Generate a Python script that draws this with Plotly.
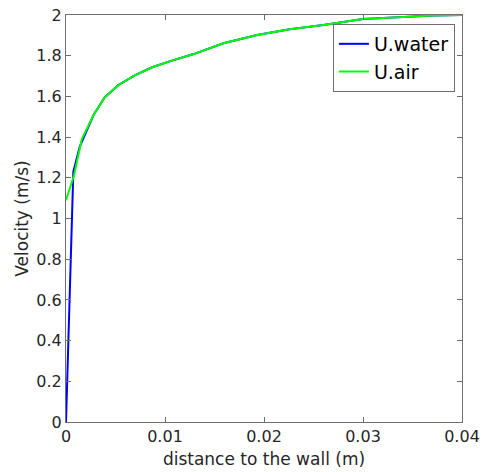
import plotly.graph_objects as go

# distance to the wall (m) and velocity (m/s)
x_water = [0, 0.00074, 0.0014, 0.0028, 0.0039, 0.0053, 0.0070, 0.0087, 0.0107, 0.0129, 0.0159,
           0.0193, 0.0226, 0.0260, 0.0300, 0.0341, 0.0370, 0.0400]
u_water = [0, 1.23, 1.355, 1.51, 1.595, 1.656, 1.705, 1.743, 1.776, 1.808, 1.861,
           1.902, 1.930, 1.951, 1.980, 1.992, 1.997, 2.0]

x_air = [0, 0.0008, 0.0016, 0.0028, 0.0039, 0.0053, 0.0070, 0.0087, 0.0107, 0.0129, 0.0159,
         0.0193, 0.0226, 0.0260, 0.0300, 0.0341, 0.0370, 0.0400]
u_air = [1.09, 1.21, 1.39, 1.51, 1.595, 1.656, 1.705, 1.743, 1.776, 1.808, 1.861,
         1.902, 1.930, 1.951, 1.980, 1.992, 1.997, 2.0]

x_ticks = [0, 0.01, 0.02, 0.03, 0.04]
x_ticklabels = ["0", "0.01", "0.02", "0.03", "0.04"]
y_ticks = [0, 0.2, 0.4, 0.6, 0.8, 1, 1.2, 1.4, 1.6, 1.8, 2]
y_ticklabels = ["0", "0.2", "0.4", "0.6", "0.8", "1", "1.2", "1.4", "1.6", "1.8", "2"]

fig = go.Figure()
fig.add_trace(go.Scatter(x=x_water, y=u_water, mode="lines", name="U.water",
                         line=dict(color="#0000FF", width=2)))
fig.add_trace(go.Scatter(x=x_air, y=u_air, mode="lines", name="U.air",
                         line=dict(color="#00FF00", width=2)))

axis_common = dict(
    showline=True, linecolor="#6e6e6e", linewidth=1, mirror="ticks",
    ticks="inside", ticklen=5, tickcolor="#6e6e6e", tickwidth=1,
    showgrid=False, zeroline=False, automargin=False,
    tickfont=dict(family="DejaVu Sans", size=16, color="#262626"),
)

fig.update_layout(
    width=482, height=472,
    margin=dict(l=66, r=20, t=15, b=50),
    paper_bgcolor="white", plot_bgcolor="white",
    font=dict(family="DejaVu Sans", color="#262626"),
    xaxis=dict(range=[0, 0.04], tickvals=x_ticks, ticktext=x_ticklabels,
               title=dict(text="distance to the wall (m)", font=dict(size=17, color="#262626"), standoff=7),
               **axis_common),
    yaxis=dict(range=[0, 2], tickvals=y_ticks, ticktext=y_ticklabels,
               title=dict(text="Velocity (m/s)", font=dict(size=17, color="#262626"), standoff=3),
               **axis_common),
    legend=dict(x=0.674, y=0.978, xanchor="left", yanchor="top",
                bgcolor="white", bordercolor="#6e6e6e", borderwidth=1,
                font=dict(family="DejaVu Sans", size=19, color="#000000"),
                itemwidth=30, tracegroupgap=0),
    showlegend=True,
)

fig.write_html("out.html")
